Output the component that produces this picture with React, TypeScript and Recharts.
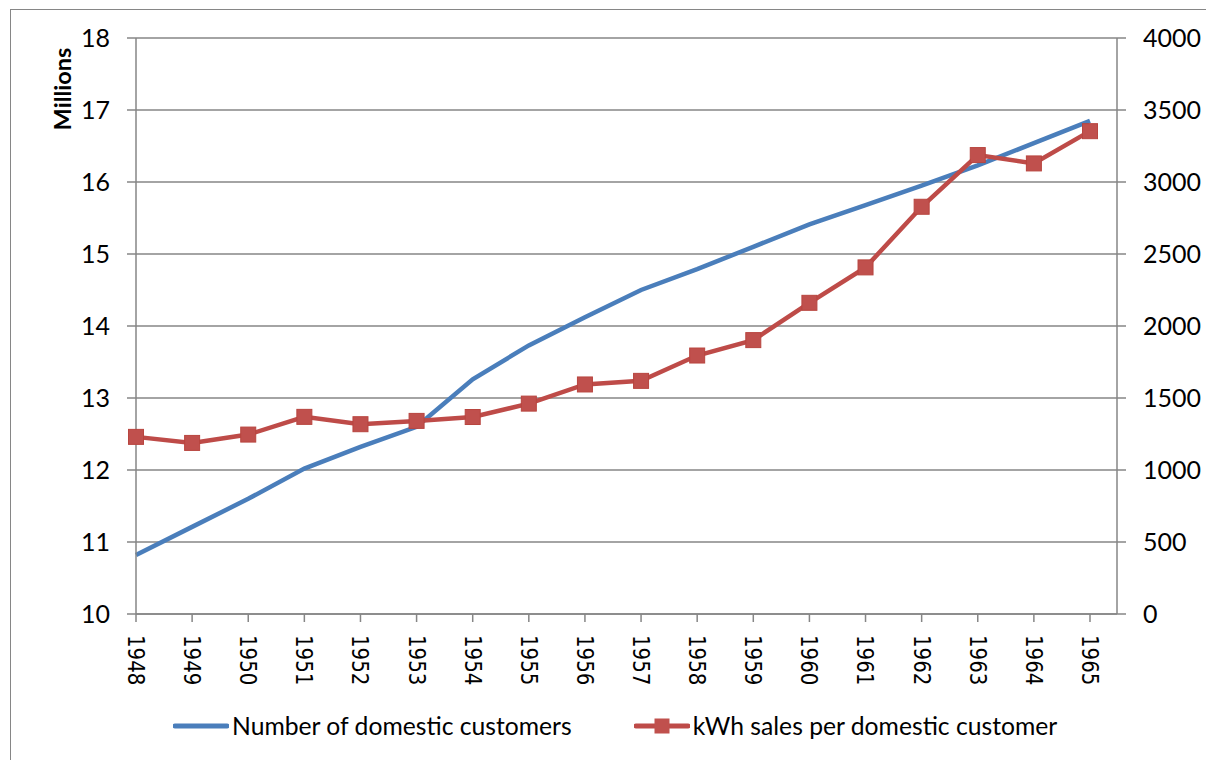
import { CartesianGrid, Line, LineChart, XAxis, YAxis } from "recharts";

const years = [
  "1948", "1949", "1950", "1951", "1952", "1953", "1954", "1955", "1956",
  "1957", "1958", "1959", "1960", "1961", "1962", "1963", "1964", "1965",
];
const customers = [
  10.82, 11.21, 11.6, 12.02, 12.32, 12.6, 13.26, 13.73, 14.12,
  14.5, 14.79, 15.1, 15.41, 15.68, 15.95, 16.23, 16.54, 16.85,
];
const kwhSales = [
  1230, 1188, 1246, 1369, 1318, 1341, 1368, 1461, 1594,
  1619, 1795, 1902, 2161, 2407, 2828, 3187, 3129, 3353,
];
const leftTicks = [10, 11, 12, 13, 14, 15, 16, 17, 18];
const rightTicks = [0, 500, 1000, 1500, 2000, 2500, 3000, 3500, 4000];

const blue = "#4A7EBB";
const red = "#BE4B48";
const grey = "#868686";
const tickFont = "Lato, 'Open Sans', sans-serif";

const rows = years.map((year, i) => ({
  year,
  customers: customers[i],
  kwh: kwhSales[i],
}));

function YearTick(props: any) {
  const { x, y, payload } = props;
  return (
    <text
      transform={`translate(${x},${y + 11}) rotate(90) scale(0.86,1)`}
      textAnchor="start"
      dominantBaseline="central"
      fontFamily="'DejaVu Sans', sans-serif"
      fontSize={23}
      fill="#000"
    >
      {payload.value}
    </text>
  );
}

function SquareDot(props: any) {
  const { cx, cy } = props;
  if (cx == null || cy == null) return null;
  return (
    <rect x={cx - 7.5} y={cy - 7.5} width={15} height={15} fill="#C0504D" stroke="#B8453F" strokeWidth={1} />
  );
}

export default function App() {
  return (
    <div
      style={{
        position: "fixed",
        left: 0,
        top: 0,
        width: 1206,
        height: 760,
        overflow: "hidden",
        background: "#fff",
      }}
    >
      <div
        style={{
          position: "absolute",
          left: 10,
          top: 9,
          width: 1300,
          height: 900,
          borderLeft: `1.5px solid ${grey}`,
          borderTop: `1.5px solid ${grey}`,
        }}
      />
      <div
        style={{
          position: "absolute",
          left: 62,
          top: 89,
          transform: "translate(-50%, -50%) rotate(-90deg)",
          fontFamily: tickFont,
          fontWeight: 700,
          fontSize: 23.5,
          whiteSpace: "nowrap",
        }}
      >
        Millions
      </div>
      <div style={{ position: "absolute", left: 0, top: 0 }}>
        <LineChart
          width={1206}
          height={760}
          data={rows}
          margin={{ top: 38, right: 9, bottom: 66, left: 36 }}
        >
          <CartesianGrid vertical={false} stroke={grey} strokeWidth={1.5} yAxisId="left" />
          <XAxis
            dataKey="year"
            padding={{ left: 0, right: 27 }}
            height={80}
            tickSize={8}
            tickLine={{ stroke: grey, strokeWidth: 1.5 }}
            axisLine={{ stroke: grey, strokeWidth: 1.5 }}
            tick={<YearTick />}
            interval={0}
          />
          <YAxis
            yAxisId="left"
            domain={[10, 18]}
            ticks={leftTicks}
            width={100}
            tickSize={9}
            tickMargin={17}
            tickLine={{ stroke: grey, strokeWidth: 1.5 }}
            axisLine={{ stroke: grey, strokeWidth: 1.5 }}
            tick={{ fill: "#000", fontSize: 25, fontFamily: tickFont }}
          />
          <YAxis
            yAxisId="right"
            orientation="right"
            domain={[0, 4000]}
            ticks={rightTicks}
            width={80}
            tickSize={9}
            tickMargin={17}
            tickLine={{ stroke: grey, strokeWidth: 1.5 }}
            axisLine={{ stroke: grey, strokeWidth: 1.5 }}
            tick={{ fill: "#000", fontSize: 25, fontFamily: tickFont, textAnchor: "start" }}
          />
          <Line
            yAxisId="left"
            dataKey="customers"
            stroke={blue}
            strokeWidth={4.5}
            dot={false}
            isAnimationActive={false}
          />
          <Line
            yAxisId="right"
            dataKey="kwh"
            stroke={red}
            strokeWidth={4.5}
            dot={<SquareDot />}
            isAnimationActive={false}
          />
        </LineChart>
      </div>
      {/* legend */}
      <div
        style={{
          position: "absolute",
          top: 711,
          left: 173,
          display: "flex",
          alignItems: "center",
          fontFamily: tickFont,
          fontSize: 24.7,
          color: "#000",
          whiteSpace: "nowrap",
        }}
      >
        <svg width={56} height={28}>
          <line x1={2} y1={14} x2={54} y2={14} stroke={blue} strokeWidth={5} strokeLinecap="round" />
        </svg>
        <span style={{ marginLeft: 3 }}>Number of domestic customers</span>
        <svg width={56} height={28} style={{ marginLeft: 62 }}>
          <line x1={2} y1={14} x2={54} y2={14} stroke={red} strokeWidth={5} strokeLinecap="round" />
          <rect x={20.5} y={6.5} width={15} height={15} fill="#C0504D" />
        </svg>
        <span style={{ marginLeft: 3 }}>kWh sales per domestic customer</span>
      </div>
    </div>
  );
}
